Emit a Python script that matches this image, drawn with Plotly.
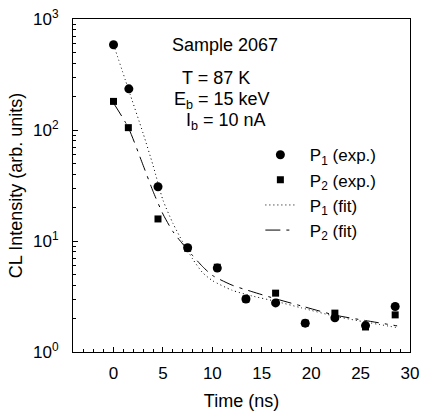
import plotly.graph_objects as go

# Experimental data
t_p1 = [0, 1.55, 4.5, 7.5, 10.5, 13.4, 16.4, 19.4, 22.4, 25.5, 28.5]
i_p1 = [586, 235, 30.8, 8.7, 5.7, 3.0, 2.77, 1.82, 2.03, 1.73, 2.57]
t_p2 = [0, 1.5, 4.5, 7.5, 10.5, 13.4, 16.4, 19.4, 22.4, 25.5, 28.5]
i_p2 = [181, 105, 15.8, 8.6, 5.8, 3.0, 3.39, 1.82, 2.24, 1.68, 2.16]

# Fit curves
t_fit = [0, 1.5, 3, 4, 5, 6, 7, 8, 9, 10, 12, 14, 16.5, 19, 22.4, 25.5, 28.7]
f_p1 = [589, 234, 93, 48, 23.4, 14.5, 9.8, 6.9, 5.2, 4.4, 3.6, 3.2, 2.85, 2.5, 2.1, 1.86, 1.66]
f_p2 = [175, 105, 48, 28, 17.5, 12.2, 9.4, 7.4, 5.9, 4.9, 4.0, 3.5, 3.0, 2.6, 2.15, 1.92, 1.72]

x_ticks = [0, 5, 10, 15, 20, 25, 30]
y_ticks = [1, 10, 100, 1000]
y_ticktext = ["10<sup>0</sup>", "10<sup>1</sup>", "10<sup>2</sup>", "10<sup>3</sup>"]

FONT = "Liberation Sans, Arial, Helvetica, sans-serif"
PAD = "\u00a0\u00a0"

fig = go.Figure()
fig.add_trace(go.Scatter(x=t_p1, y=i_p1, mode="markers", name=PAD + "P<sub>1</sub> (exp.)",
                         marker=dict(symbol="circle", size=9, color="black")))
fig.add_trace(go.Scatter(x=t_p2, y=i_p2, mode="markers", name=PAD + "P<sub>2</sub> (exp.)",
                         marker=dict(symbol="square", size=7, color="black")))
fig.add_trace(go.Scatter(x=t_fit, y=f_p1, mode="lines", name=PAD + "P<sub>1</sub> (fit)",
                         line=dict(color="black", width=1, dash="1px,3px", shape="spline", smoothing=0.6)))
fig.add_trace(go.Scatter(x=t_fit, y=f_p2, mode="lines", name=PAD + "P<sub>2</sub> (fit)",
                         line=dict(color="black", width=1, dash="longdashdot", shape="spline", smoothing=0.6)))

annots = [
    ("Sample 2067", 11.3, 2.77),
    ("T = 87 K", 10.4, 2.473),
    ("E<sub>b</sub> = 15 keV", 11.0, 2.27),
    ("I<sub>b</sub> = 10 nA", 11.4, 2.08),
]
for txt, ax_, ay_ in annots:
    fig.add_annotation(x=ax_, y=ay_, text=txt, showarrow=False, xref="x", yref="y",
                       xanchor="center", yanchor="middle",
                       font=dict(family=FONT, size=18, color="black"))

fig.update_layout(
    width=421, height=411,
    margin=dict(l=73, r=11, t=19, b=59),
    paper_bgcolor="white", plot_bgcolor="white",
    font=dict(family=FONT, size=17, color="black"),
    showlegend=True,
    legend=dict(x=0.556, y=0.645, xanchor="left", yanchor="top", bgcolor="rgba(0,0,0,0)",
                font=dict(family=FONT, size=17, color="black"), tracegroupgap=0),
)
fig.update_xaxes(
    range=[-4.1, 30], tickvals=x_ticks, ticks="inside", ticklen=5, tickcolor="black",
    showline=True, linecolor="black", linewidth=1, mirror=True, showgrid=False, zeroline=False,
    minor=dict(ticks="inside", ticklen=3, dtick=1, tick0=0, tickcolor="black"),
    title=dict(text="Time (ns)", font=dict(family=FONT, size=18), standoff=12),
    tickfont=dict(family=FONT, size=17), ticklabelstandoff=6, automargin=False,
)
fig.update_yaxes(
    type="log", range=[0, 3], tickvals=y_ticks, ticktext=y_ticktext, ticks="inside", ticklen=5,
    tickcolor="black", showline=True, linecolor="black", linewidth=1, mirror=True, showgrid=False,
    minor=dict(ticks="inside", ticklen=3, dtick="D1", tickcolor="black"),
    title=dict(text="CL Intensity (arb. units)", font=dict(family=FONT, size=18), standoff=5),
    tickfont=dict(family=FONT, size=17), ticklabelstandoff=10, automargin=False,
)

fig.write_html("out.html", config={"displayModeBar": False},
               post_script="document.body.style.margin='0';document.body.style.overflow='hidden';")
